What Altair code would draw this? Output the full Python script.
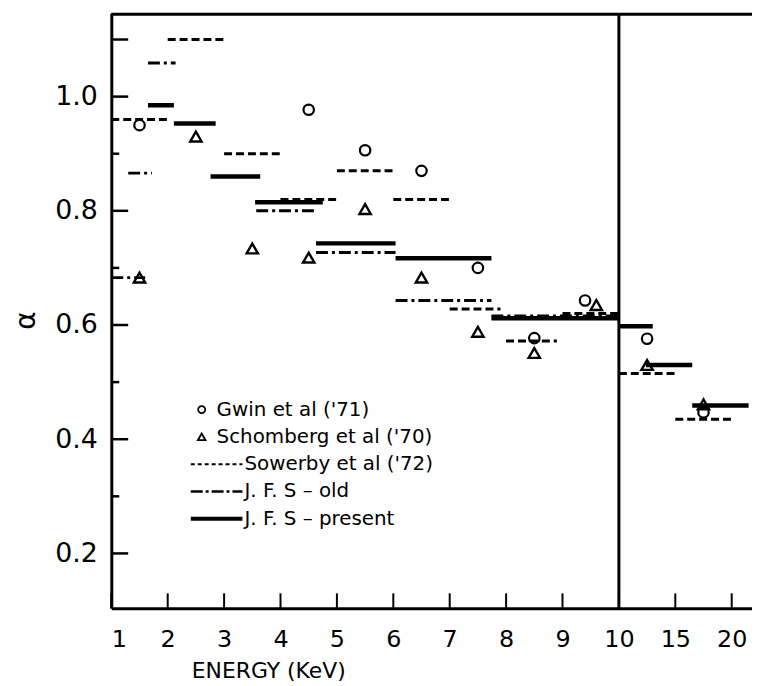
import altair as alt
import pandas as pd

# ---------------- data (energies in keV, values alpha) ----------------
sow_start = [1.0, 2.0, 3.0, 4.0, 5.0, 6.0, 7.0, 8.0, 9.0, 10.0, 15.0]
sow_end = [2.0, 3.0, 4.0, 5.0, 6.0, 7.0, 7.9, 8.9, 10.0, 15.0, 20.0]
sow_val = [0.96, 1.10, 0.90, 0.82, 0.87, 0.82, 0.628, 0.572, 0.62, 0.515, 0.435]

old_start = [1.0, 1.3, 1.65, 3.57, 4.63, 6.04, 7.74]
old_end = [1.6, 1.72, 2.14, 4.63, 6.04, 7.74, 10.0]
old_val = [0.683, 0.866, 1.059, 0.80, 0.727, 0.643, 0.616]

pres_start = [1.65, 2.11, 2.76, 3.55, 4.63, 6.04, 7.74, 10.0, 12.4, 16.5]
pres_end = [2.11, 2.85, 3.64, 4.75, 6.04, 7.74, 10.0, 13.0, 16.5, 21.5]
pres_val = [0.985, 0.953, 0.86, 0.815, 0.743, 0.717, 0.612, 0.598, 0.53, 0.459]

gwin_E = [1.5, 4.5, 5.5, 6.5, 7.5, 8.5, 9.4, 12.5, 17.5]
gwin_val = [0.95, 0.977, 0.906, 0.87, 0.70, 0.577, 0.643, 0.576, 0.447]

schom_E = [1.5, 2.5, 3.5, 4.5, 5.5, 6.5, 7.5, 8.5, 9.6, 12.5, 17.5]
schom_val = [0.683, 0.93, 0.734, 0.718, 0.803, 0.683, 0.588, 0.551, 0.635, 0.53, 0.461]

x_ticks_E = [1, 2, 3, 4, 5, 6, 7, 8, 9, 10, 15, 20]
y_labels = [0.2, 0.4, 0.6, 0.8, 1.0]
y_major = [0.2, 0.4, 0.6, 0.8, 1.0, 1.1]
y_minor = [0.3, 0.5, 0.7, 0.9]
break_E = [10]

legend_labels = ["Gwin  et  al  ('71)", "Schomberg  et  al  ('70)",
                 "Sowerby  et  al  ('72)", "J. F. S \u2013 old", "J. F. S \u2013 present"]

# ---------------- broken energy axis: 1-10 linear, 10-20 compressed ----------------
def tx(e):
    return e if e <= 10 else 10 + (e - 10) / 5.0

W, H = 645, 599
FONT = "DejaVu Sans"
xs = alt.Scale(domain=[1, 12.36], nice=False, zero=False)
ys = alt.Scale(domain=[0.104, 1.146], nice=False, zero=False)

def seg_df(s, e, v):
    return pd.DataFrame({"x": [tx(a) for a in s], "x2": [tx(b) for b in e], "v": v})

sow = seg_df(sow_start, sow_end, sow_val)
old = seg_df(old_start, old_end, old_val)
pres = seg_df(pres_start, pres_end, pres_val)
gwin = pd.DataFrame({"x": [tx(e) for e in gwin_E], "v": gwin_val})
schom = pd.DataFrame({"x": [tx(e) for e in schom_E], "v": schom_val})
xt = pd.DataFrame({"x": [tx(e) for e in x_ticks_E]})
lbl_map = " : ".join([f"datum.value == {tx(e)} ? '{e}'" for e in x_ticks_E]) + " : ''"

xaxis = alt.Axis(values=[tx(e) for e in x_ticks_E], labelExpr=lbl_map, grid=False, ticks=False,
                 domainColor="black", domainWidth=3, labelFontSize=24, labelFont=FONT,
                 labelColor="black", labelPadding=20, title="ENERGY  (KeV)", titleFont=FONT,
                 titleFontSize=22, titleFontWeight="normal", titleColor="black",
                 titleX=158, titleY=63, titleAlign="center", titleBaseline="middle")
yaxis = alt.Axis(values=y_labels, format=".1f", grid=False, ticks=False,
                 domainColor="black", domainWidth=3, labelFontSize=27, labelFont=FONT,
                 labelColor="black", labelPadding=14, title="\u03b1", titleFont=FONT,
                 titleFontSize=28, titleFontWeight="normal", titleColor="black",
                 titleX=-85, titleY=309, titleAlign="center", titleBaseline="middle")

X = alt.X("x:Q", scale=xs, axis=xaxis)
Y = alt.Y("v:Q", scale=ys, axis=yaxis)

gwin_layer = alt.Chart(gwin).mark_point(shape="circle", filled=False, color="black", opacity=1,
                                         size=110, strokeWidth=2.2).encode(x=X, y=Y)
schom_layer = alt.Chart(schom).mark_point(shape="triangle-up", filled=False, color="black", opacity=1,
                                           size=130, strokeWidth=2.4).encode(x=X, y=Y)

def seg_layer(df, dash, width):
    kw = {"strokeDash": dash} if dash else {}
    return alt.Chart(df).mark_rule(color="black", strokeWidth=width, clip=True, **kw).encode(
        x=X, x2="x2:Q", y=Y)

sow_layer = seg_layer(sow, [8, 4], 3)
old_layer = seg_layer(old, [12, 4, 3, 4], 3)
pres_layer = seg_layer(pres, None, 4.5)

# inward ticks and frame
xtick_layer = alt.Chart(xt).mark_rule(color="black", strokeWidth=2).encode(
    x=X, y=alt.value(H), y2=alt.value(H - 15))
ymaj_layer = alt.Chart(pd.DataFrame({"v": y_major})).mark_rule(color="black", strokeWidth=2.5).encode(
    y=Y, x=alt.value(0), x2=alt.value(17))
ymin_layer = alt.Chart(pd.DataFrame({"v": y_minor})).mark_rule(color="black", strokeWidth=2.5).encode(
    y=Y, x=alt.value(0), x2=alt.value(8))
break_layer = alt.Chart(pd.DataFrame({"x": break_E})).mark_rule(color="black", strokeWidth=3).encode(
    x=X, y=alt.value(0), y2=alt.value(H))
top_layer = alt.Chart(pd.DataFrame({"a": [0]})).mark_rule(color="black", strokeWidth=3).encode(
    x=alt.value(0), x2=alt.value(W), y=alt.value(1))

# legend (pixel layout inside the plot)
LX0, LY0, DY = 91, 399, 27.5
leg_rows = pd.DataFrame({"label": legend_labels})
leg_rows["tx"] = [106, 106, 134, 134, 134]
leg_rows["ty"] = [LY0 + i * DY for i in range(5)]
leg_text = alt.Chart(leg_rows).mark_text(align="left", baseline="middle", font=FONT,
                                          fontSize=20, color="black").encode(
    x=alt.X("tx:Q", scale=None), y=alt.Y("ty:Q", scale=None), text="label:N")

def leg_sym(row, shape, size):
    return alt.Chart(pd.DataFrame({"a": [0]})).mark_point(shape=shape, filled=False, color="black",
                                                         opacity=1, size=size, strokeWidth=1.8).encode(
        x=alt.value(LX0), y=alt.value(LY0 + row * DY))

def leg_line(row, dash, width):
    kw = {"strokeDash": dash} if dash else {}
    return alt.Chart(pd.DataFrame({"a": [0]})).mark_rule(color="black", strokeWidth=width, **kw).encode(
        x=alt.value(80), x2=alt.value(132), y=alt.value(LY0 + row * DY))

chart = alt.layer(
    gwin_layer, schom_layer, sow_layer, old_layer, pres_layer,
    xtick_layer, ymaj_layer, ymin_layer, break_layer, top_layer,
    leg_sym(0, "circle", 50), leg_sym(1, "triangle-up", 60),
    leg_line(2, [4, 3], 2), leg_line(3, [12, 3, 3, 3], 2.5), leg_line(4, None, 4),
    leg_text,
).properties(
    width=W, height=H,
    autosize=alt.AutoSizeParams(type="none"),
    padding={"left": 104, "top": 3, "right": 0, "bottom": 75},
).configure_view(stroke=None).configure(background="white")

chart.save("out.html", embed_options={"renderer": "svg", "actions": False})
